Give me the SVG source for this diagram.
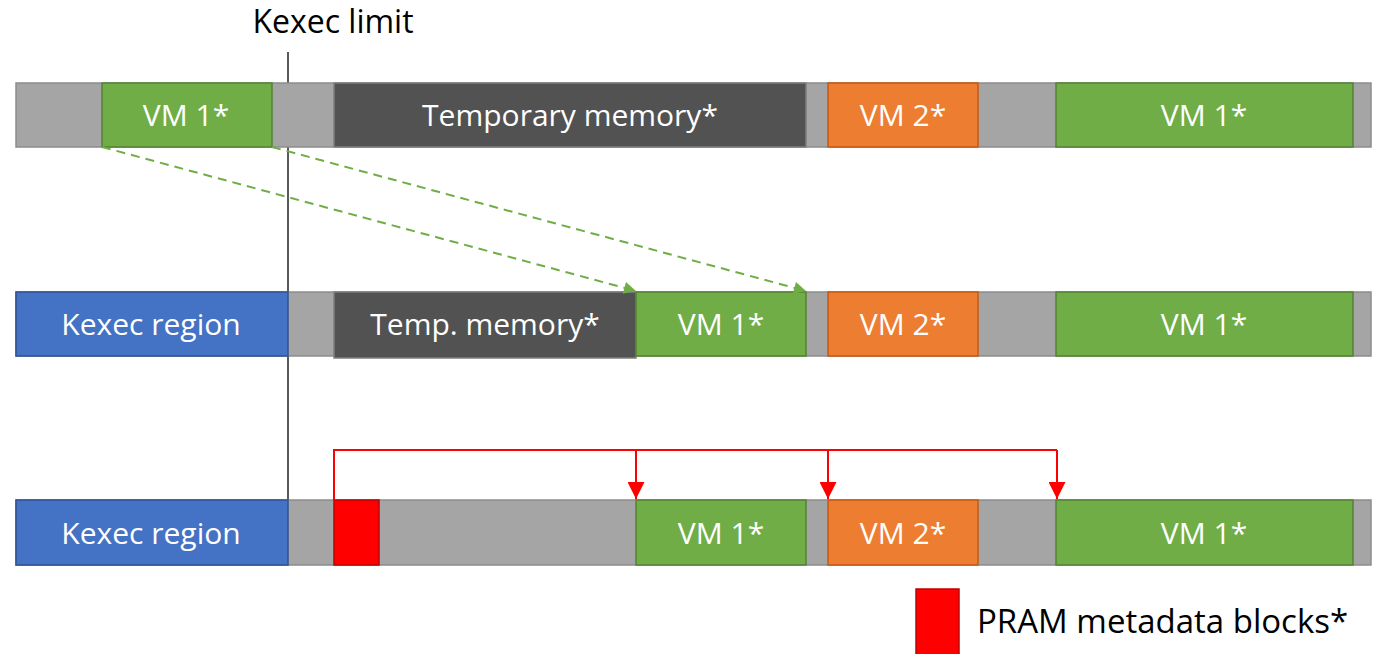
<svg xmlns="http://www.w3.org/2000/svg" width="1385" height="654" viewBox="0 0 1385 654">
  <style>
    .free { fill: #a5a5a5; stroke: #8c8c8c; stroke-width: 1.5; }
    .vm1 { fill: #70ad47; stroke: #548235; stroke-width: 1.5; }
    .vm2 { fill: #ed7d31; stroke: #c55a11; stroke-width: 1.5; }
    .tmp { fill: #525252; stroke: #7f7f7f; stroke-width: 1.5; }
    .kx { fill: #4472c4; stroke: #2f528f; stroke-width: 1.5; }
    .pram { fill: #ff0000; stroke: #c00000; stroke-width: 1.5; }
    .lbl { font-family: "Open Sans", Lato, sans-serif; font-size: 30px; fill: #ffffff; text-anchor: middle; }
    .cap { font-family: "Open Sans", Lato, sans-serif; font-size: 32px; fill: #000000; }
    .legend-text { font-size: 33px; }
    .move { fill: none; stroke: #70ad47; stroke-width: 2; stroke-dasharray: 9 6; }
    .link { fill: none; stroke: #ff0000; stroke-width: 2; }
  </style>
  <defs>
    <marker id="gArrow" viewBox="0 0 10 10" refX="10" refY="5" markerWidth="14" markerHeight="12" markerUnits="userSpaceOnUse" orient="auto">
      <path d="M0,0 L10,5 L0,10 z" fill="#70ad47"/>
    </marker>
    <marker id="rArrow" viewBox="0 0 10 10" refX="10" refY="5" markerWidth="19" markerHeight="17" markerUnits="userSpaceOnUse" orient="auto">
      <path d="M0,0 L10,5 L0,10 z" fill="#ff0000"/>
    </marker>
  </defs>
  <rect width="1385" height="654" fill="#ffffff"/>

  <!-- Kexec limit marker -->
  <g id="kexec-limit">
    <line x1="288" y1="52" x2="288" y2="500" stroke="#595959" stroke-width="2"/>
    <text class="cap" x="333" y="33" text-anchor="middle">Kexec limit</text>
  </g>

  <!-- Row 1: memory before kexec -->
  <g id="row1">
    <rect class="free" x="16" y="83" width="1355" height="64"/>
    <g id="r1-vm1a"><rect class="vm1" x="102" y="83" width="170" height="64"/><text class="lbl" x="186" y="126">VM 1*</text></g>
    <g id="r1-tmp"><rect class="tmp" x="334" y="83" width="472" height="64"/><text class="lbl" x="570" y="126">Temporary memory*</text></g>
    <g id="r1-vm2"><rect class="vm2" x="828" y="83" width="150" height="64"/><text class="lbl" x="903" y="126">VM 2*</text></g>
    <g id="r1-vm1b"><rect class="vm1" x="1056" y="83" width="297" height="64"/><text class="lbl" x="1204" y="126">VM 1*</text></g>
  </g>

  <!-- Row 2: after relocation -->
  <g id="row2">
    <rect class="free" x="16" y="292" width="1355" height="64"/>
    <g id="r2-kexec"><rect class="kx" x="16" y="292" width="272" height="64"/><text class="lbl" x="151" y="335">Kexec region</text></g>
    <g id="r2-tmp"><rect class="tmp" x="334" y="292" width="302" height="66"/><text class="lbl" x="485" y="335">Temp. memory*</text></g>
    <g id="r2-vm1a"><rect class="vm1" x="636" y="292" width="170" height="64"/><text class="lbl" x="721" y="335">VM 1*</text></g>
    <g id="r2-vm2"><rect class="vm2" x="828" y="292" width="150" height="64"/><text class="lbl" x="903" y="335">VM 2*</text></g>
    <g id="r2-vm1b"><rect class="vm1" x="1056" y="292" width="297" height="64"/><text class="lbl" x="1204" y="335">VM 1*</text></g>
  </g>

  <!-- Row 3: with PRAM metadata -->
  <g id="row3">
    <rect class="free" x="16" y="500" width="1355" height="65"/>
    <g id="r3-kexec"><rect class="kx" x="16" y="500" width="272" height="65"/><text class="lbl" x="151" y="544">Kexec region</text></g>
    <g id="r3-pram"><rect class="pram" x="334" y="500" width="45" height="65"/></g>
    <g id="r3-vm1a"><rect class="vm1" x="636" y="500" width="170" height="65"/><text class="lbl" x="721" y="544">VM 1*</text></g>
    <g id="r3-vm2"><rect class="vm2" x="828" y="500" width="150" height="65"/><text class="lbl" x="903" y="544">VM 2*</text></g>
    <g id="r3-vm1b"><rect class="vm1" x="1056" y="500" width="297" height="65"/><text class="lbl" x="1204" y="544">VM 1*</text></g>
  </g>

  <!-- Connectors -->
  <g id="connectors">
    <line class="move" x1="102" y1="147" x2="636" y2="291" marker-end="url(#gArrow)"/>
    <line class="move" x1="272" y1="147" x2="806" y2="291" marker-end="url(#gArrow)"/>
    <polyline class="link" points="334,500 334,450 1057,450"/>
    <line class="link" x1="636" y1="450" x2="636" y2="499" marker-end="url(#rArrow)"/>
    <line class="link" x1="828" y1="450" x2="828" y2="499" marker-end="url(#rArrow)"/>
    <line class="link" x1="1057" y1="450" x2="1057" y2="499" marker-end="url(#rArrow)"/>
  </g>

  <!-- Legend -->
  <g id="legend">
    <rect class="pram" x="916" y="589" width="43" height="66"/>
    <text class="cap legend-text" x="977" y="633">PRAM metadata blocks*</text>
  </g>
</svg>
